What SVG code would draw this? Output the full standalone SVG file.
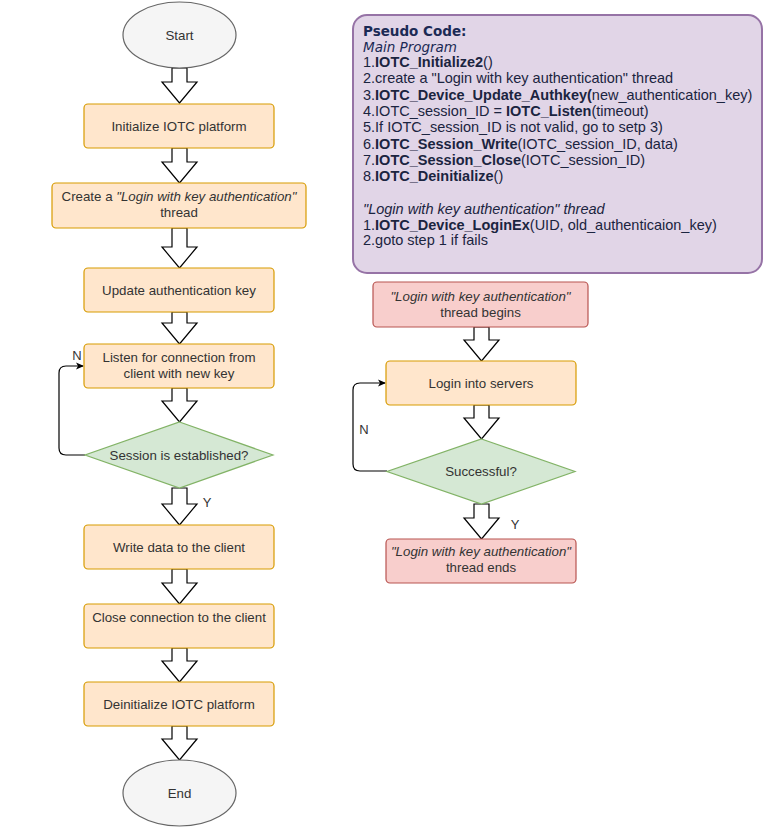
<svg xmlns="http://www.w3.org/2000/svg" width="779" height="835" viewBox="0 0 779 835">
<style>
.bg{fill:#ffffff}
.proc{fill:#ffe6cc;stroke:#d79b00;stroke-width:1.2}
.dec{fill:#d5e8d4;stroke:#82b366;stroke-width:1.2}
.red{fill:#f8cecc;stroke:#b85450;stroke-width:1.2}
.term{fill:#f5f5f5;stroke:#666666;stroke-width:1.2}
.note{fill:#e1d5e7;stroke:#9673a6;stroke-width:2}
.t{font-family:"Liberation Sans",Arial,sans-serif;font-size:13.3px;fill:#333333;text-anchor:middle}
.it{font-style:italic}
.lbl{font-family:"Liberation Sans",Arial,sans-serif;font-size:13px;fill:#333333;text-anchor:middle}
.ps{font-family:"Liberation Sans",Arial,sans-serif;font-size:14.5px;fill:#1b2440}
.b{font-weight:bold}
.hd{font-family:"DejaVu Sans",Verdana,sans-serif;font-size:13.5px;fill:#1b2a55}
.blk{fill:#ffffff;stroke:#000000;stroke-width:1.2;stroke-linejoin:miter}
.loop{fill:none;stroke:#000000;stroke-width:1.2}
</style>
<defs>
<marker id="ah" markerWidth="10" markerHeight="10" refX="8" refY="5" orient="auto" markerUnits="userSpaceOnUse">
<path d="M1,1.5 L9,5 L1,8.5 L3,5 Z" fill="#000000"/>
</marker>
</defs>
<rect class="bg" x="0" y="0" width="779" height="835"/>

<g id="connectors">
<path class="blk" d="M172,68 H187 V82 H197 L179.5,103 L162,82 H172 Z"/>
<path class="blk" d="M172,148 H187 V162 H197 L179.5,183 L162,162 H172 Z"/>
<path class="blk" d="M172,228 H187 V247 H197 L179.5,268 L162,247 H172 Z"/>
<path class="blk" d="M172,312 H187 V323 H197 L179.5,344 L162,323 H172 Z"/>
<path class="blk" d="M172,388 H187 V401 H197 L179.5,422 L162,401 H172 Z"/>
<path class="blk" d="M172,488 H187 V504 H197 L179.5,525 L162,504 H172 Z"/>
<path class="blk" d="M172,569 H187 V583 H197 L179.5,604 L162,583 H172 Z"/>
<path class="blk" d="M172,648 H187 V661 H197 L179.5,682 L162,661 H172 Z"/>
<path class="blk" d="M172,726 H187 V739 H197 L179.5,760 L162,739 H172 Z"/>
<path class="loop" d="M85,455 H66 Q59,455 59,448 V373 Q59,366 66,366 H83" marker-end="url(#ah)"/>
<text class="lbl" x="77" y="360">N</text>
<text class="lbl" x="207" y="507">Y</text>

<path class="blk" d="M474,327 H489 V340 H499 L481.5,361 L464,340 H474 Z"/>
<path class="blk" d="M474,405 H489 V418 H499 L481.5,439 L464,418 H474 Z"/>
<path class="blk" d="M474,504 H489 V518 H499 L481.5,539 L464,518 H474 Z"/>
<path class="loop" d="M387,471 H360 Q353,471 353,464 V390 Q353,383 360,383 H385" marker-end="url(#ah)"/>
<text class="lbl" x="364" y="434">N</text>
<text class="lbl" x="515" y="529">Y</text>
</g>

<g id="start">
<ellipse class="term" cx="179.5" cy="35" rx="56.5" ry="33"/>
<text class="t" x="179.5" y="40">Start</text>
</g>
<g id="init">
<rect class="proc" x="84" y="104" width="190" height="44" rx="4"/>
<text class="t" x="179" y="130.5">Initialize IOTC platform</text>
</g>
<g id="create">
<rect class="proc" x="52" y="183" width="254" height="45" rx="4"/>
<text class="t" x="179" y="200.5">Create a <tspan class="it">"Login with key authentication"</tspan></text>
<text class="t" x="179" y="216.5">thread</text>
</g>
<g id="update">
<rect class="proc" x="84" y="268" width="190" height="44" rx="4"/>
<text class="t" x="179" y="294.5">Update authentication key</text>
</g>
<g id="listen">
<rect class="proc" x="84" y="344" width="190" height="44" rx="4"/>
<text class="t" x="179" y="361.5">Listen for connection from</text>
<text class="t" x="179" y="377.5">client with new key</text>
</g>
<g id="session">
<polygon class="dec" points="179.5,422 273,455 179.5,488 85,455"/>
<text class="t" x="179" y="459.5">Session is established?</text>
</g>
<g id="write">
<rect class="proc" x="84" y="525" width="190" height="44" rx="4"/>
<text class="t" x="179" y="551.5">Write data to the client</text>
</g>
<g id="close">
<rect class="proc" x="84" y="604" width="190" height="44" rx="4"/>
<text class="t" x="179" y="621.5">Close connection to the client</text>
</g>
<g id="deinit">
<rect class="proc" x="84" y="682" width="190" height="44" rx="4"/>
<text class="t" x="179" y="708.5">Deinitialize IOTC platform</text>
</g>
<g id="end">
<ellipse class="term" cx="179.5" cy="793" rx="56.5" ry="33"/>
<text class="t" x="179.5" y="798">End</text>
</g>

<g id="pseudo">
<rect class="note" x="353" y="15" width="409" height="258" rx="14"/>
<text class="hd" x="363" y="36" font-weight="bold">Pseudo Code:</text>
<text class="hd" x="363" y="51.5" font-style="italic">Main Program</text>
<text class="ps" x="363" y="67">1.<tspan class="b">IOTC_Initialize2</tspan>()</text>
<text class="ps" x="363" y="83.3">2.create a "Login with key authentication" thread</text>
<text class="ps" x="363" y="99.6">3.<tspan class="b">IOTC_Device_Update_Authkey(</tspan>new_authentication_key)</text>
<text class="ps" x="363" y="115.9">4.IOTC_session_ID = <tspan class="b">IOTC_Listen</tspan>(timeout)</text>
<text class="ps" x="363" y="132.2">5.If IOTC_session_ID is not valid, go to setp 3)</text>
<text class="ps" x="363" y="148.5">6.<tspan class="b">IOTC_Session_Write</tspan>(IOTC_session_ID, data)</text>
<text class="ps" x="363" y="164.8">7.<tspan class="b">IOTC_Session_Close</tspan>(IOTC_session_ID)</text>
<text class="ps" x="363" y="181.1">8.<tspan class="b">IOTC_Deinitialize</tspan>()</text>
<text class="ps it" x="363" y="213.5" font-size="13.5">"Login with key authentication" thread</text>
<text class="ps" x="363" y="229.5">1.<tspan class="b">IOTC_Device_LoginEx</tspan>(UID, old_authenticaion_key)</text>
<text class="ps" x="363" y="245">2.goto step 1 if fails</text>
</g>

<g id="thread-begins">
<rect class="red" x="373" y="282" width="215" height="45" rx="4"/>
<text class="t it" x="480.5" y="301">"Login with key authentication"</text>
<text class="t" x="480.5" y="316.5">thread begins</text>
</g>
<g id="login">
<rect class="proc" x="386" y="361" width="190" height="44" rx="4"/>
<text class="t" x="481" y="387.5">Login into servers</text>
</g>
<g id="successful">
<polygon class="dec" points="481.5,439 575,471.5 481.5,504 387,471.5"/>
<text class="t" x="481" y="476">Successful?</text>
</g>
<g id="thread-ends">
<rect class="red" x="386" y="539" width="190" height="44" rx="4"/>
<text class="t it" x="481" y="556">"Login with key authentication"</text>
<text class="t" x="481" y="572">thread ends</text>
</g>
</svg>
